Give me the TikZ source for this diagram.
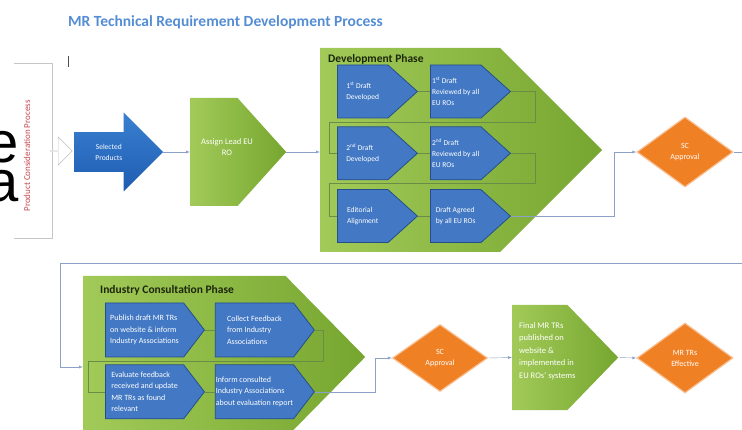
\documentclass[tikz,border=0pt]{standalone}
\usepackage{fontspec}
\setmainfont{Carlito}
\newfontfamily\bigsans{Liberation Sans}
\usetikzlibrary{positioning,calc,arrows,shapes.geometric,shapes.symbols,shapes.arrows}

\definecolor{ttlblue}{RGB}{84,141,212}
\definecolor{boxblue}{RGB}{66,120,196}
\definecolor{boxedge}{RGB}{38,78,140}
\definecolor{grnlight}{RGB}{162,202,88}
\definecolor{grndark}{RGB}{118,166,48}
\definecolor{phasetext}{RGB}{28,38,12}
\definecolor{orng}{RGB}{240,128,36}
\definecolor{linkgrey}{RGB}{140,160,200}
\definecolor{inlink}{RGB}{105,140,70}
\definecolor{pcpred}{RGB}{200,70,80}
\definecolor{selA}{RGB}{30,92,178}
\definecolor{selB}{RGB}{58,128,208}

\begin{document}
\begin{tikzpicture}[x=1pt,y=-1pt,
      link/.style = {draw=linkgrey, thin},
      innerlink/.style = {draw=inlink, thin},
      phase/.style = {signal, signal to=east, signal pointer angle=90,
         anchor=west, inner sep=0pt, left color=grnlight, right color=grndark},
      phasetitle/.style = {anchor=west, inner sep=0pt, text=phasetext,
         font=\bfseries\fontsize{11.5}{13}\selectfont},
      boxtext/.style = {inner sep=0pt, text=white, align=center,
         font=\fontsize{8.5}{11}\selectfont},
      task/.style = {signal, signal to=east, signal pointer angle=84,
         fill=boxblue, draw=boxedge, line width=0.8pt, inner sep=0pt,
         minimum width=80pt, minimum height=53pt, text=white, align=left,
         font=\fontsize{7.5}{11}\selectfont},
      bigtask/.style = {task, signal pointer angle=105,
         minimum width=99pt, minimum height=54pt,
         font=\fontsize{8}{11.5}\selectfont},
      gate/.style = {diamond, fill=orng, draw=orng!50!white, line width=1.2pt,
         inner sep=0pt, minimum width=96pt, minimum height=70pt,
         text=white, align=center, font=\fontsize{8}{11}\selectfont}
]
   \useasboundingbox (0,0) rectangle (742,430);
   \clip (0,0) rectangle (742,430);

   % title and slide left-overs
   \node[anchor=base west, inner sep=0pt, text=ttlblue,
      font=\bfseries\fontsize{15.5}{17}\selectfont] (title) at (68,27)
      {MR Technical Requirement Development Process};
   \draw[gray!60!black, line width=0.8pt] (68,56) -- (68,67);
   \node[anchor=north east, inner sep=0pt, align=right,
      font=\bigsans\fontsize{58}{39}\selectfont] (slidetext) at (19,131) {e\\a};

   % product consideration
   \draw[gray!45] (14,63) -| (52,238) -- (14,238);
   \node[rotate=90, inner sep=0pt, text=pcpred,
      font=\fontsize{9}{10}\selectfont] (pcp) at (27,156)
      {Product Consideration Process};
   \node[single arrow, draw=gray!50, fill=white, inner sep=0pt,
      minimum width=28pt, minimum height=22pt,
      single arrow head extend=5pt] (pcparrow) at (61,151) {};

   % first row
   \node[single arrow, anchor=tail, inner xsep=0pt, inner ysep=11.25pt,
      top color=selB, bottom color=selA,
      minimum width=79pt, minimum height=89pt,
      single arrow head extend=19.5pt, text=white, align=center,
      font=\fontsize{7.5}{11}\selectfont] (sel) at (74,152)
      {Selected\\Products};
   \node[phase, signal pointer angle=96, minimum width=96pt,
      minimum height=108pt] (lead) at (190,152) {};
   \node[boxtext] (leadtext) at (227,147) {Assign Lead EU\\RO};

   \node[phase, minimum width=282pt, minimum height=204pt] (dev) at (320,150) {};
   \node[phasetitle] (devtitle) at (328,59) {Development Phase};

   \node[task, anchor=west] (d1) at (337,91.5) {1\textsuperscript{st} Draft\\Developed};
   \node[task, right=12pt of d1] (d2) {1\textsuperscript{st} Draft\\Reviewed by all\\EU ROs};
   \node[task, below=8pt of d1] (d3) {2\textsuperscript{nd} Draft\\Developed};
   \node[task, right=12pt of d3] (d4) {2\textsuperscript{nd} Draft\\Reviewed by all\\EU ROs};
   \node[task, below=9pt of d3] (d5) {Editorial\\Alignment};
   \node[task, right=12pt of d5] (d6) {Draft Agreed\\by all EU ROs};

   \node[gate] (sc1) at (685,152) {SC\\Approval};

   % second row
   \node[phase, signal pointer angle=91, minimum width=282pt,
      minimum height=162pt] (ic) at (83,357) {};
   \node[phasetitle] (ictitle) at (100,290) {Industry Consultation Phase};

   \node[bigtask, anchor=west] (i1) at (105,330)
      {Publish draft MR TRs\\on website \& inform\\Industry Associations};
   \node[bigtask, right=10pt of i1] (i2)
      {Collect Feedback\\from Industry\\Associations};
   \node[bigtask, below=7pt of i1] (i3)
      {Evaluate feedback\\received and update\\MR TRs as found\\relevant};
   \node[bigtask, right=10pt of i3] (i4)
      {Inform consulted\\Industry Associations\\about evaluation report};

   \node[gate, minimum width=95pt, minimum height=67pt] (sc2) at (440,358)
      {SC\\Approval};
   \node[phase, signal pointer angle=92, minimum width=106pt,
      minimum height=105pt] (fin) at (512,357.5) {};
   \node[boxtext, anchor=north west, align=left,
      font=\fontsize{8.5}{12.5}\selectfont] (fintext) at (519,322)
      {Final MR TRs\\published on\\website \&\\implemented in\\EU ROs' systems};
   \node[gate] (eff) at (685,358) {MR TRs\\Effective};

   % connectors
   \coordinate (w1) at (329,122);
   \coordinate (w2) at (329,183);
   \coordinate (w3) at (60,263);
   \coordinate (w4) at (88,361);

   \draw[link, -latex] (sel.tip) -- (lead.west);
   \draw[link, -latex] (lead.east) -- (lead.east -| dev.west);
   \draw[innerlink] (d1.east) -- (d2.west);
   \draw[innerlink] (d2.east) -- ++(24,0) |- (w1) |- (d3.west);
   \draw[innerlink] (d3.east) -- (d4.west);
   \draw[innerlink] (d4.east) -- ++(24,0) |- (w2) |- (d5.west);
   \draw[innerlink] (d5.east) -- (d6.west);
   \draw[link, -latex] (d6.east) -- ++(103,0) |- (sc1.west);
   \draw[link, -latex] (sc1.east) -- ++(30,0) |- (w3) |- ([yshift=-10pt]ic.west);

   \draw[innerlink] (i1.east) -- (i2.west);
   \draw[innerlink] (i2.east) -- ++(8,0) |- (w4) |- (i3.west);
   \draw[innerlink] (i3.east) -- (i4.west);
   \draw[link, -latex] (i4.east) -- ++(60,0) |- (sc2.west);
   \draw[link, -latex] (sc2.east) -- (fin.west);
   \draw[link, -latex] (fin.east) -- (eff.west);
\end{tikzpicture}
\end{document}
